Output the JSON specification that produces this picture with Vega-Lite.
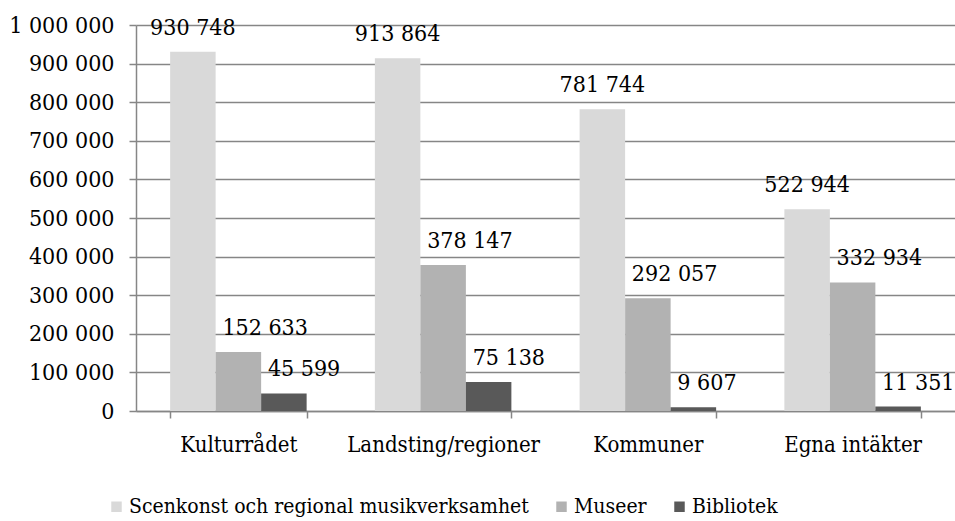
{
  "$schema": "https://vega.github.io/schema/vega-lite/v6.json",
  "width": 819,
  "height": 386,
  "autosize": "none",
  "padding": {"left": 136, "top": 25, "right": 0, "bottom": 110},
  "config": {
    "font": "DejaVu Serif Condensed",
    "view": {"stroke": null},
    "locale": {"number": {"decimal": ",", "thousands": " ", "grouping": [3], "currency": ["", " kr"]}}
  },
  "data": {
    "values": [
      {"cat": "Kulturrådet", "series": "Scenkonst och regional musikverksamhet", "value": 930748},
      {"cat": "Kulturrådet", "series": "Museer", "value": 152633},
      {"cat": "Kulturrådet", "series": "Bibliotek", "value": 45599},
      {"cat": "Landsting/regioner", "series": "Scenkonst och regional musikverksamhet", "value": 913864},
      {"cat": "Landsting/regioner", "series": "Museer", "value": 378147},
      {"cat": "Landsting/regioner", "series": "Bibliotek", "value": 75138},
      {"cat": "Kommuner", "series": "Scenkonst och regional musikverksamhet", "value": 781744},
      {"cat": "Kommuner", "series": "Museer", "value": 292057},
      {"cat": "Kommuner", "series": "Bibliotek", "value": 9607},
      {"cat": "Egna intäkter", "series": "Scenkonst och regional musikverksamhet", "value": 522944},
      {"cat": "Egna intäkter", "series": "Museer", "value": 332934},
      {"cat": "Egna intäkter", "series": "Bibliotek", "value": 11351}
    ]
  },
  "encoding": {
    "x": {
      "field": "cat", "type": "nominal",
      "sort": ["Kulturrådet", "Landsting/regioner", "Kommuner", "Egna intäkter"],
      "scale": {"paddingInner": 0.3333, "paddingOuter": 0.1667},
      "axis": {
        "title": null, "labelAngle": 0, "labelFontSize": 22, "labelColor": "#000000",
        "labelLimit": 400,
        "tickBand": "extent", "tickSize": 7, "tickColor": "#868686", "tickWidth": 1.5,
        "domainColor": "#868686", "domainWidth": 1.5, "labelPadding": 16, "grid": false
      }
    },
    "xOffset": {
      "field": "series",
      "sort": ["Scenkonst och regional musikverksamhet", "Museer", "Bibliotek"],
      "scale": {"paddingInner": 0, "paddingOuter": 0}
    },
    "y": {
      "field": "value", "type": "quantitative",
      "scale": {"domain": [0, 1000000], "nice": false},
      "axis": {
        "title": null, "format": ",d", "values": [0, 100000, 200000, 300000, 400000, 500000, 600000, 700000, 800000, 900000, 1000000],
        "labelOverlap": false,
        "labelFontSize": 23, "labelColor": "#000000", "labelPadding": 15,
        "tickSize": 7, "tickColor": "#868686", "tickWidth": 1.5,
        "domainColor": "#868686", "domainWidth": 1.5,
        "grid": true, "gridColor": "#868686", "gridWidth": 1.5
      }
    }
  },
  "layer": [
    {
      "mark": {"type": "bar"},
      "encoding": {
        "color": {
          "field": "series", "type": "nominal",
          "sort": ["Scenkonst och regional musikverksamhet", "Museer", "Bibliotek"],
          "scale": {"domain": ["Scenkonst och regional musikverksamhet", "Museer", "Bibliotek"], "range": ["#d9d9d9", "#b2b2b2", "#595959"]},
          "legend": {
            "title": null, "orient": "none", "legendX": -30, "legendY": 471, "direction": "horizontal",
            "padding": 0,
            "symbolType": "square", "symbolSize": 110, "symbolStrokeWidth": 0,
            "labelFontSize": 21, "labelColor": "#000000", "labelOffset": 2, "columnPadding": 22,
            "labelLimit": 600
          }
        }
      }
    },
    {
      "transform": [{"filter": "datum.series === 'Scenkonst och regional musikverksamhet'"}],
      "mark": {"type": "text", "fontSize": 23, "align": "center", "baseline": "alphabetic", "dy": -17, "color": "#000000"},
      "encoding": {"text": {"field": "value", "type": "quantitative", "format": ",d"}}
    },
    {
      "transform": [{"filter": "datum.series !== 'Scenkonst och regional musikverksamhet'"}],
      "mark": {"type": "text", "fontSize": 23, "align": "left", "baseline": "alphabetic", "dy": -17, "dx": -16, "color": "#000000"},
      "encoding": {"text": {"field": "value", "type": "quantitative", "format": ",d"}}
    }
  ]
}
